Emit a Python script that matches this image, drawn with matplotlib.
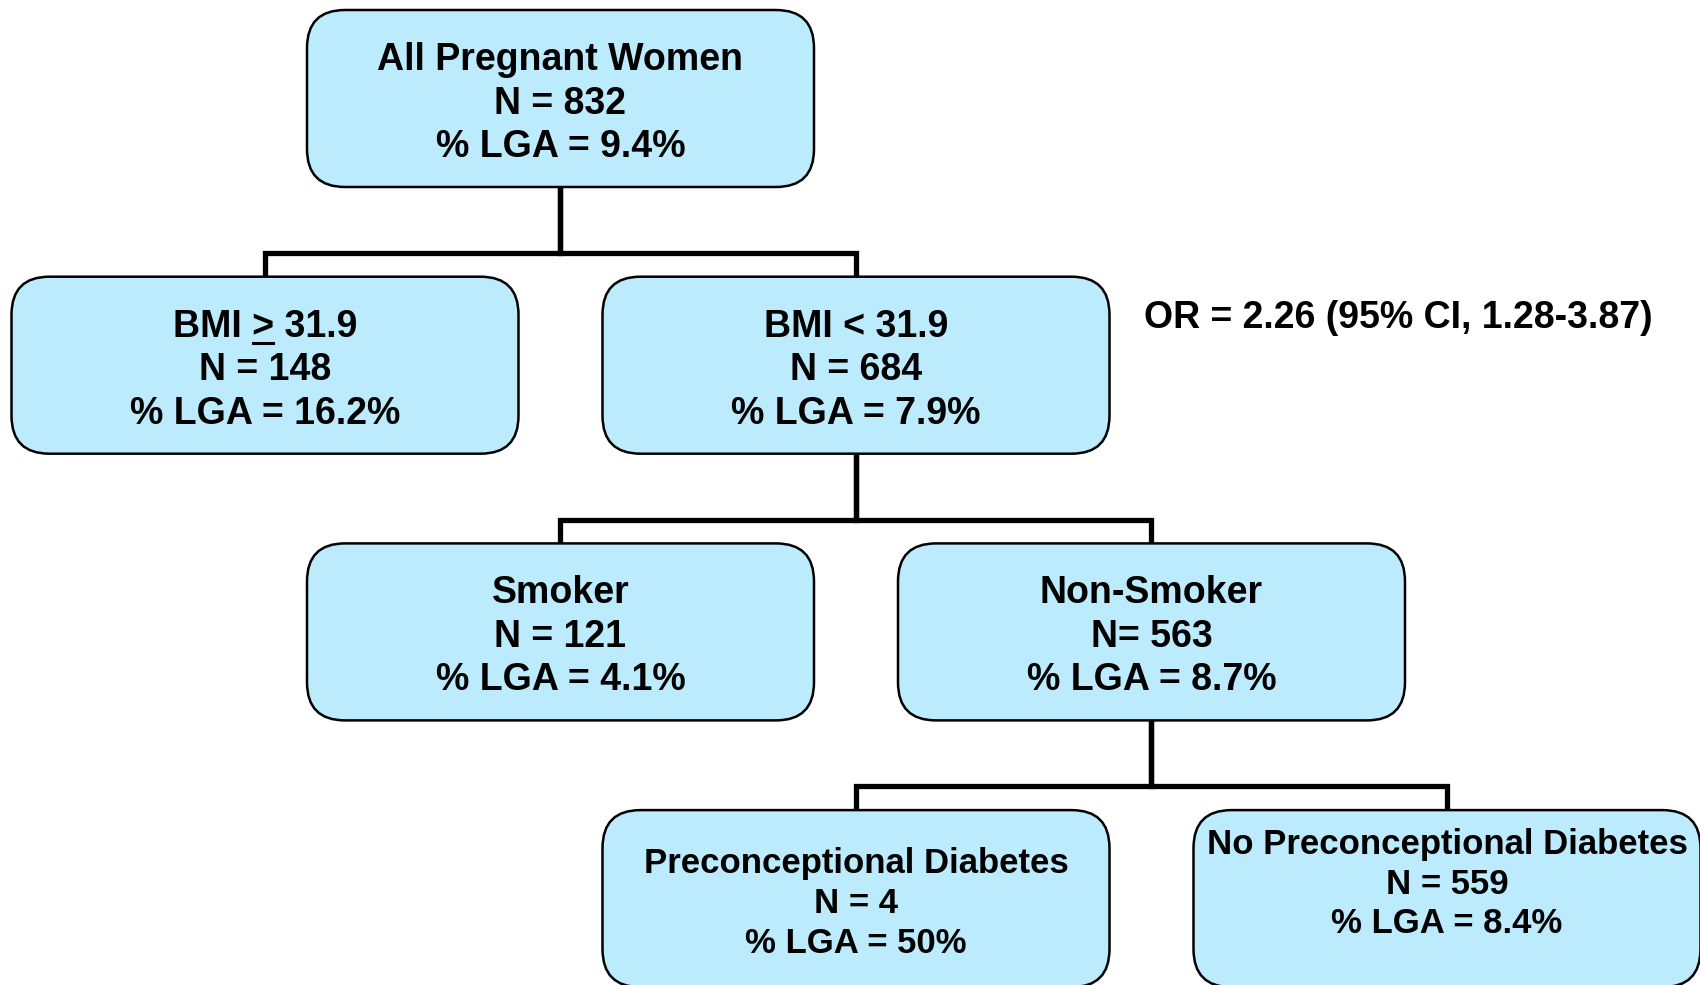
import matplotlib
matplotlib.use("Agg")
import matplotlib.pyplot as plt
from matplotlib.patches import FancyBboxPatch

# ---- data -------------------------------------------------------------
titles = ["All Pregnant Women", "BMI > 31.9", "BMI < 31.9", "Smoker",
          "Non-Smoker", "Preconceptional Diabetes", "No Preconceptional Diabetes"]
n_values = [832, 148, 684, 121, 563, 4, 559]
lga_pct = ["9.4", "16.2", "7.9", "4.1", "8.7", "50", "8.4"]
parents = [None, 0, 0, 2, 2, 4, 4]
odds_ratio = "OR = 2.26 (95% CI, 1.28-3.87)"

# ---- layout (pixel coords, y downwards) ------------------------------
W, H = 1700, 985
level = [0, 1, 1, 2, 2, 3, 3]
column = [1, 0, 2, 1, 3, 2, 4]
BOX_W, BOX_H = 507, 177
X0, DX = 265, 295.5
Y0, DY = 10, 266.7
FILL = "#BBEBFC"
FONT = "Liberation Sans"

fig = plt.figure(figsize=(W / 100, H / 100), dpi=100)
ax = fig.add_axes([0, 0, 1, 1])
ax.set_xlim(0, W)
ax.set_ylim(H, 0)
ax.axis("off")


def box_xy(i):
    cx = X0 + DX * column[i]
    top = Y0 + DY * level[i]
    return cx, top


# connectors
for i, p in enumerate(parents):
    if p is None:
        continue
    px, ptop = box_xy(p)
    cx, ctop = box_xy(i)
    bar_y = ptop + BOX_H + 66
    ax.plot([px, px, cx, cx], [ptop + BOX_H, bar_y, bar_y, ctop],
            color="black", lw=3.8, solid_joinstyle="miter", zorder=1)

# boxes and text
underline_target = None
for i, title in enumerate(titles):
    cx, top = box_xy(i)
    ax.add_patch(FancyBboxPatch((cx - BOX_W / 2, top), BOX_W, BOX_H,
                                boxstyle="round,pad=0,rounding_size=38",
                                fc=FILL, ec="black", lw=1.8, zorder=2))
    eq = "N= " if title == "Non-Smoker" else "N = "
    lines = [title, f"{eq}{n_values[i]}", f"% LGA = {lga_pct[i]}%"]
    if level[i] == 3:
        first, step, fs = (63, 40, 25) if i == 5 else (44, 39.5, 25)
    else:
        first, step, fs = 60, 43.5, 27
    for k, line in enumerate(lines):
        t = ax.text(cx, top + first + step * k, line, ha="center", va="baseline",
                    fontsize=fs, fontweight="bold", family=FONT, zorder=3)
        if i == 1 and k == 0:
            underline_target = (t, cx, top + first, fs)

ax.text(1144, 318, odds_ratio, ha="left", va="center", fontsize=27,
        fontweight="bold", family=FONT)

# underline the ">" of "BMI > 31.9" (drawn as the underlined ">" of the original)
t, cx, base, fs = underline_target
r = fig.canvas.get_renderer()
full_w = t.get_window_extent(r).width


def text_w(s):
    tmp = ax.text(0, 0, s, fontsize=fs, fontweight="bold", family=FONT)
    w = tmp.get_window_extent(r).width
    tmp.remove()
    return w


left = cx - full_w / 2
end = left + text_w("BMI >")
start = end - text_w(">")
ax.plot([start + 1, end - 1], [base + 6, base + 6], color="black", lw=2.2, zorder=3)

fig.savefig("out.png", dpi=100)
